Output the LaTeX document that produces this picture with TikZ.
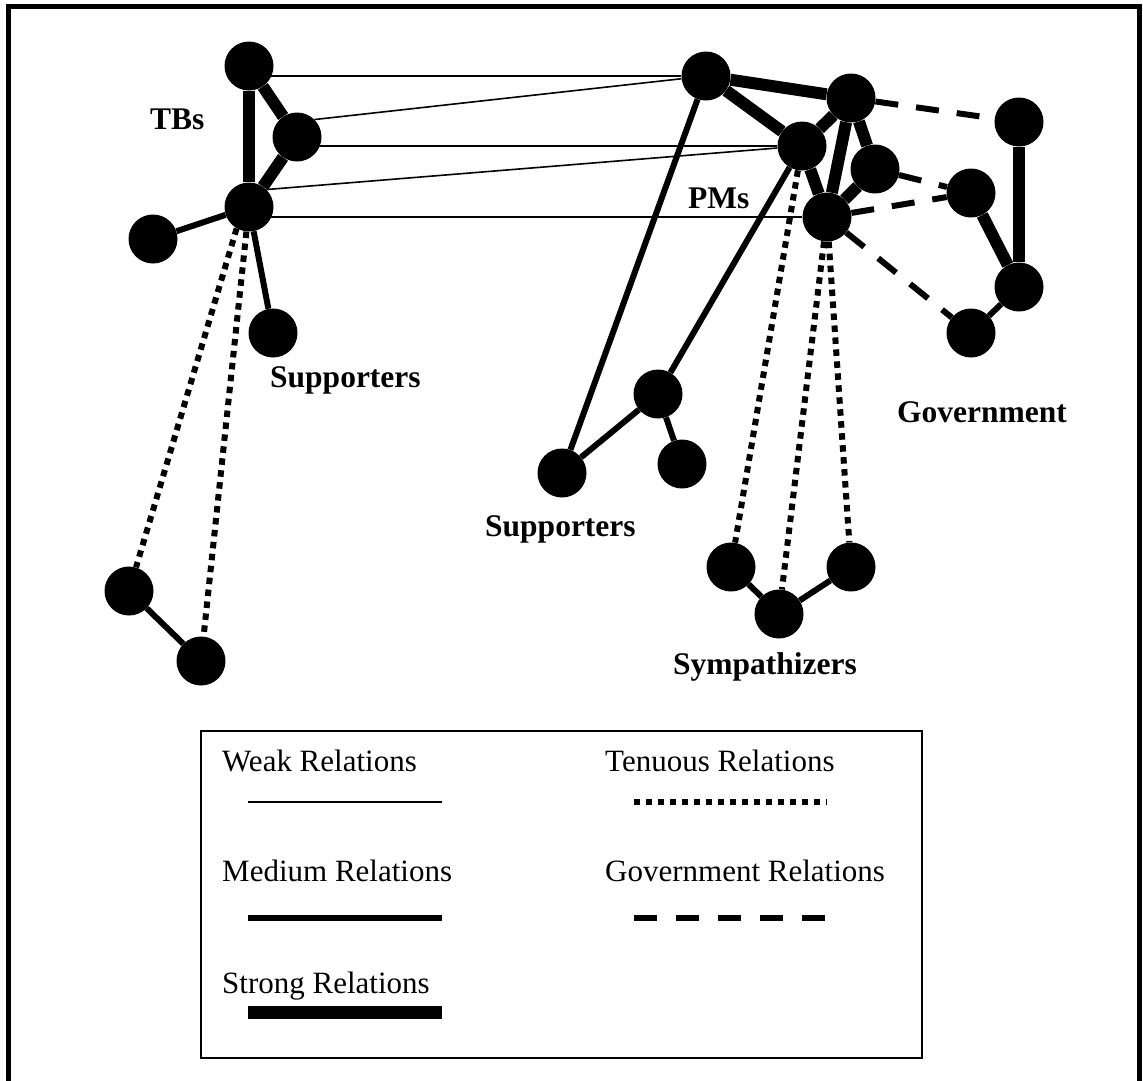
\documentclass[tikz,border=0pt]{standalone}
\usepackage{fontspec}
\setmainfont{Liberation Serif}
\pgfdeclarelayer{edges}
\pgfsetlayers{edges,main}
\begin{document}
\begin{tikzpicture}[x=1pt,y=-1pt,
  actor/.style={circle,fill=black,minimum size=49pt,inner sep=0pt},
  weak/.style={line width=1.6pt},
  medium/.style={line width=6pt},
  strong/.style={line width=12pt},
  tenuous/.style={line width=6pt,dash pattern=on 6.5pt off 5.5pt},
  govt/.style={line width=6pt,dash pattern=on 23pt off 18pt},
  grouplabel/.style={font=\bfseries\fontsize{31.5}{36}\selectfont,inner sep=0pt,anchor=base west},
  legendlabel/.style={font=\fontsize{31}{36}\selectfont,inner sep=0pt,anchor=base west}]
\useasboundingbox (0,0) rectangle (1143,1080);

% outer frame
\draw[line width=5.5pt] (8.5,1095) -- (8.5,6.5) -- (1139.5,6.5) -- (1139.5,1095);

% TBs and their supporters
\node[actor] (T1) at (249,66) {};
\node[actor] (T2) at (297,137) {};
\node[actor] (T3) at (249,207) {};
\node[actor] (T4) at (153,239) {};
\node[actor] (T5) at (273,333) {};
\node[actor] (L1) at (129,591) {};
\node[actor] (L2) at (201,661) {};

% PMs
\node[actor] (P1) at (706,76) {};
\node[actor] (P2) at (851,98) {};
\node[actor] (P3) at (802,146) {};
\node[actor] (P4) at (875,169) {};
\node[actor] (P5) at (827,217) {};

% Government
\node[actor] (G1) at (1019,122) {};
\node[actor] (G2) at (971,193) {};
\node[actor] (G3) at (1019,287) {};
\node[actor] (G4) at (971,333) {};

% PM supporters
\node[actor] (S1) at (658,394) {};
\node[actor] (S2) at (562,473) {};
\node[actor] (S3) at (682,464) {};

% Sympathizers
\node[actor] (Y1) at (731,567) {};
\node[actor] (Y2) at (779,614) {};
\node[actor] (Y3) at (851,567) {};

\begin{pgfonlayer}{edges}
  % TB cluster
  \draw[strong] (T1) -- (T3);
  \draw[strong] (T1) -- (T2);
  \draw[strong] (T2) -- (T3);
  \draw[medium] (T3) -- (T4);
  \draw[medium] (T3) -- (T5);
  \draw[tenuous] (T3.240) -- (L1);
  \draw[tenuous] (T3) -- (L2);
  \draw[medium] (L1) -- (L2);
  % weak ties between TBs and PMs
  \draw[weak] (T1 |- P1) -- (P1);
  \draw[weak] (T2.north east) -- (P1);
  \draw[weak] (T2 |- P3) -- (P3);
  \draw[weak] (T3.north east) -- (P3);
  \draw[weak] (T3 |- P5) -- (P5);
  % PM cluster
  \draw[strong] (P1) -- (P2);
  \draw[strong] (P1) -- (P3);
  \draw[strong] (P3) -- (P2);
  \draw[strong] (P2) -- (P5);
  \draw[strong] (P2) -- (P4);
  \draw[strong] (P3) -- (P5);
  \draw[strong] (P4) -- (P5);
  % PM supporters
  \draw[medium] (P1) -- (S2);
  \draw[medium] (P3) -- (S1);
  \draw[medium] (S1) -- (S2);
  \draw[medium] (S1) -- (S3);
  % sympathizers
  \draw[tenuous] (P3) -- (Y1);
  \draw[tenuous] (P5) -- (Y2);
  \draw[tenuous] (P5) -- (Y3);
  \draw[medium] (Y1) -- (Y2);
  \draw[medium] (Y2) -- (Y3);
  % government
  \draw[govt] (P2) -- (G1);
  \draw[govt] (P4) -- (G2);
  \draw[govt] (P5) -- (G2);
  \draw[govt] (P5) -- (G4);
  \draw[strong] (G1) -- (G3);
  \draw[strong] (G2) -- (G3);
  \draw[medium] (G3) -- (G4);
\end{pgfonlayer}

% group labels
\node[grouplabel] (lTB) at (150,129) {TBs};
\node[grouplabel] (lPM) at (688,208) {PMs};
\node[grouplabel] (lS1) at (270,387) {Supporters};
\node[grouplabel] (lS2) at (485,536) {Supporters};
\node[grouplabel] (lSy) at (673,674) {Sympathizers};
\node[grouplabel] (lGv) at (897,422) {Government};

% legend
\draw[line width=2.5pt] (201,731) rectangle (922,1058);
\node[legendlabel] (kW) at (222,771) {Weak Relations};
\node[legendlabel] (kM) at (222,881) {Medium Relations};
\node[legendlabel] (kS) at (222,993) {Strong Relations};
\node[legendlabel] (kT) at (605,771) {Tenuous Relations};
\node[legendlabel] (kG) at (605,881) {Government Relations};
\draw[weak] (248,802) -- (442,802);
\draw[medium] (248,918) -- (442,918);
\draw[line width=13pt] (248,1012) -- (442,1012);
\draw[line width=6pt,dash pattern=on 6pt off 6pt] (634,802) -- (827,802);
\draw[line width=6.5pt,dash pattern=on 23pt off 19pt] (634,918) -- (827,918);
\end{tikzpicture}
\end{document}
